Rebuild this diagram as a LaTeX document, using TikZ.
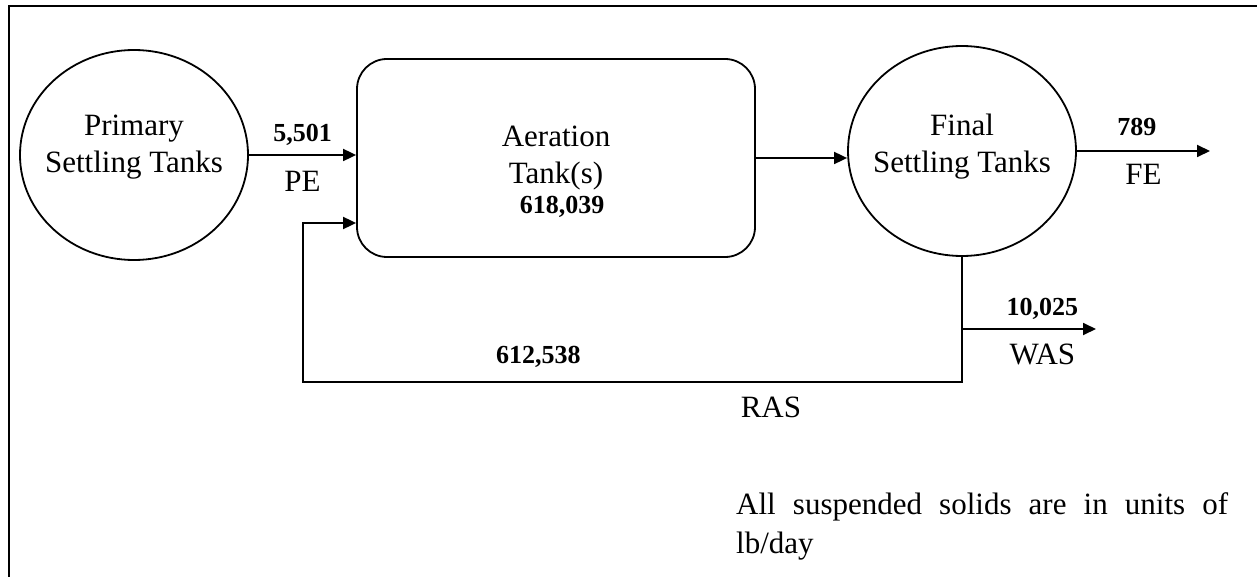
\documentclass[tikz,border=0pt]{standalone}
\usepackage{fontspec}
\setmainfont{Liberation Serif}
\usetikzlibrary{shapes.geometric, arrows.meta}
\tikzstyle{tank} = [ellipse, draw, line width=1.8pt, minimum width=228pt, minimum height=210pt, inner sep=0pt]
\tikzstyle{basin} = [rectangle, rounded corners=30pt, draw, line width=1.8pt, minimum width=398pt, minimum height=198pt]
\tikzstyle{tanktext} = [align=center, font=\fontsize{31}{37}\selectfont, inner sep=0pt]
\tikzstyle{loadlabel} = [font=\fontsize{26}{30}\selectfont\bfseries]
\tikzstyle{streamlabel} = [font=\fontsize{31}{37}\selectfont]
\tikzstyle{flow} = [line width=1.8pt, -{Triangle[length=13pt, width=12pt]}]

\begin{document}
\begin{tikzpicture}[x=1pt, y=-1pt]
\useasboundingbox (0,0) rectangle (1257,577);
\draw[line width=2.4pt] (9,577) -- (9,6) -- (1257,6);

\node (pst) [tank] at (134,155) {};
\node (psttext) [tanktext] at (134,147) {Primary\\Settling Tanks};
\node (aer) [basin] at (556,158) {};
\node (aertext) [tanktext] at (556,158) {Aeration\\Tank(s)};
\node (aerload) [loadlabel, inner sep=0pt] at (562,207) {618,039};
\node (fst) [tank] at (962,151) {};
\node (fsttext) [tanktext] at (962,147) {Final\\Settling Tanks};
\node (note) [anchor=north west, text width=492pt, align=justify, inner sep=0pt, font=\fontsize{31}{39}\selectfont] at (736,492) {All suspended solids are in units of lb/day};

\coordinate (fe) at (1210,151);
\coordinate (ras) at (962,382);
\coordinate (ret) at (303,382);
\coordinate (was) at (1096,329);

\draw[flow] (pst.east) -- node[loadlabel, above=5pt]{5,501} node[streamlabel, below=12pt]{PE} (pst.east -| aer.west);
\draw[flow] (aer.east) -- (aer.east -| fst.west);
\draw[flow] (fst.east) -- node[loadlabel, above=11pt, pos=0.45]{789} node[streamlabel, below=9pt]{FE} (fe);
\draw[flow] (fst.south) -- (ras) -- node[loadlabel, above=10pt, pos=0.643]{612,538} node[streamlabel, below=11pt, pos=0.29]{RAS} (ret) |- ([yshift=-65pt]aer.west);
\draw[flow] (fst.south |- was) -- node[loadlabel, above=5pt, pos=0.6]{10,025} node[streamlabel, below=11pt, pos=0.6]{WAS} (was);

\end{tikzpicture}
\end{document}
